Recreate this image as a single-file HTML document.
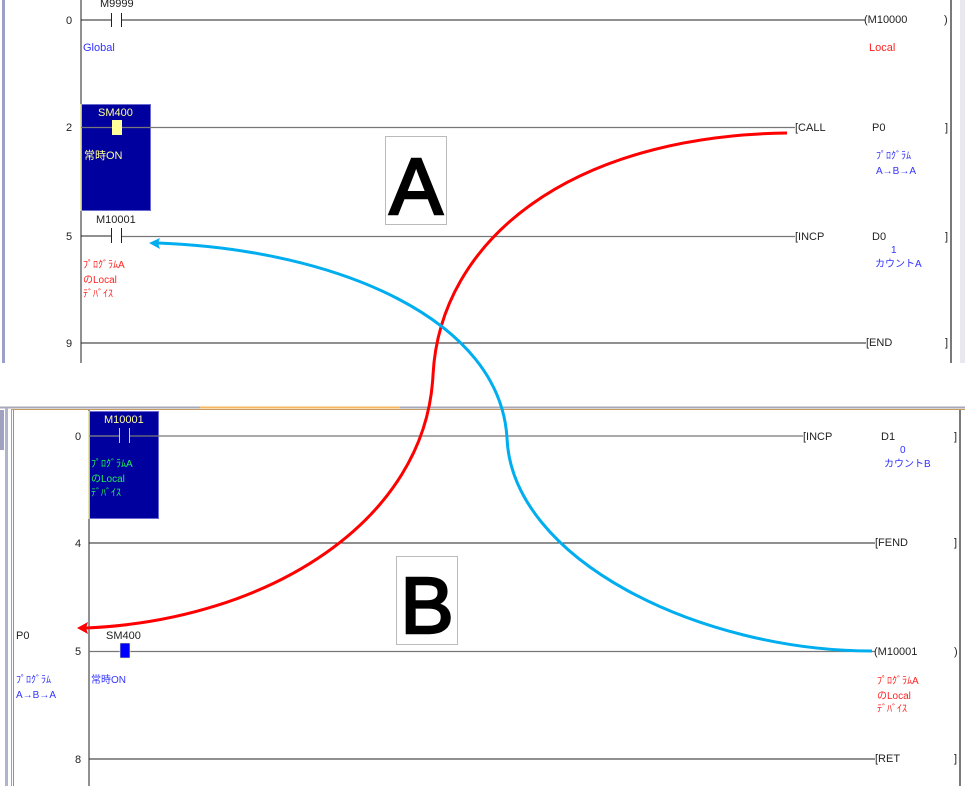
<!DOCTYPE html>
<html><head><meta charset="utf-8"><style>
html,body{margin:0;padding:0;background:#fff;}
svg{display:block;font-family:"Liberation Sans","Noto Sans CJK JP",sans-serif;font-size:11px;}
</style></head><body>
<svg width="965" height="786" viewBox="0 0 965 786" xmlns="http://www.w3.org/2000/svg">
<!-- top panel -->
<rect x="2" y="0" width="3" height="363" fill="#9aa0c8"/>
<line x1="81" y1="0" x2="81" y2="363" stroke="#555" stroke-width="1.3"/>
<line x1="951" y1="0" x2="951" y2="363" stroke="#333" stroke-width="1.3"/>
<rect x="960" y="0" width="5" height="363" fill="#e8e8ee"/>
<!-- row 0 -->
<text x="66" y="24" fill="#222">0</text>
<text x="100" y="7" fill="#222">M9999</text>
<line x1="81" y1="20" x2="111" y2="20" stroke="#222"/>
<line x1="122" y1="20" x2="865" y2="20" stroke="#222"/>
<line x1="111.5" y1="13" x2="111.5" y2="27" stroke="#222"/>
<line x1="121.5" y1="13" x2="121.5" y2="27" stroke="#222"/>
<text x="864" y="23" fill="#222">(M10000</text>
<text x="944" y="23" fill="#222">)</text>
<text x="83" y="51" fill="#3333ff">Global</text>
<text x="869" y="51" fill="#ff2222">Local</text>
<!-- row 2 -->
<rect x="81.5" y="104.5" width="69" height="106" fill="#00009f" stroke="#6a6ad0"/>
<line x1="81" y1="104" x2="81" y2="211" stroke="#ffff88"/>
<text x="98" y="116" fill="#ffff99">SM400</text>
<line x1="81" y1="127.5" x2="795" y2="127.5" stroke="#777" stroke-width="1.3"/>
<rect x="112" y="120" width="10" height="15" fill="#ffff99"/>
<text x="84" y="159" fill="#ffff99">常時ON</text>
<text x="66" y="131" fill="#222">2</text>
<text x="795" y="131" fill="#222">[CALL</text>
<text x="872" y="131" fill="#222">P0</text>
<text x="945" y="131" fill="#222">]</text>
<text x="876" y="159" fill="#3333ff" font-size="10">ﾌﾟﾛｸﾞﾗﾑ</text>
<text x="876" y="174" fill="#3333ff" font-size="10">A→B→A</text>
<rect x="385.5" y="136.5" width="61" height="88" fill="#fff" stroke="#bbb"/>
<text x="416" y="214" fill="#000" stroke="#000" stroke-width="2.5" font-size="80" text-anchor="middle">A</text>
<!-- row 5 -->
<text x="66" y="240" fill="#222">5</text>
<text x="96" y="223" fill="#222">M10001</text>
<line x1="81" y1="236" x2="111" y2="236" stroke="#222"/>
<line x1="122" y1="236.5" x2="795" y2="236.5" stroke="#777" stroke-width="1.3"/>
<line x1="111.5" y1="228" x2="111.5" y2="243" stroke="#222"/>
<line x1="121.5" y1="228" x2="121.5" y2="243" stroke="#222"/>
<text x="795" y="240" fill="#222">[INCP</text>
<text x="872" y="240" fill="#222">D0</text>
<text x="945" y="240" fill="#222">]</text>
<text x="891" y="253" fill="#3333ff" font-size="10">1</text>
<text x="875" y="267" fill="#3333ff" font-size="10">カウントA</text>
<text x="83" y="268" fill="#ff2222" font-size="10">ﾌﾟﾛｸﾞﾗﾑA</text>
<text x="83" y="283" fill="#ff2222" font-size="10">のLocal</text>
<text x="83" y="297" fill="#ff2222" font-size="10">ﾃﾞﾊﾞｲｽ</text>
<!-- row 9 -->
<text x="66" y="347" fill="#222">9</text>
<line x1="81" y1="343" x2="866" y2="343" stroke="#222"/>
<text x="866" y="346" fill="#222">[END</text>
<text x="945" y="346" fill="#222">]</text>

<!-- bottom panel -->
<line x1="0" y1="407.5" x2="965" y2="407.5" stroke="#a8a8b8" stroke-width="2"/>
<line x1="200" y1="407.5" x2="400" y2="407.5" stroke="#f5b860" stroke-width="2"/>
<rect x="0" y="410" width="4" height="40" fill="#a0a0c0"/>
<rect x="5" y="408" width="3" height="378" fill="#b0b4cc"/>
<line x1="11.5" y1="409" x2="11.5" y2="786" stroke="#c89a60"/>
<line x1="13.5" y1="409" x2="13.5" y2="786" stroke="#8090c0"/>
<line x1="11" y1="409.5" x2="965" y2="409.5" stroke="#c89a60"/>
<line x1="89" y1="410" x2="89" y2="786" stroke="#555" stroke-width="1.3"/>
<line x1="960" y1="410" x2="960" y2="786" stroke="#333" stroke-width="1.3"/>
<!-- row 0 -->
<rect x="89.5" y="411.5" width="69" height="107" fill="#00009f" stroke="#6a6ad0"/>
<line x1="89" y1="411" x2="89" y2="519" stroke="#ffff88"/>
<text x="104" y="423" fill="#ffff99">M10001</text>
<line x1="89" y1="436" x2="119" y2="436" stroke="#888" stroke-width="1.3"/>
<line x1="130" y1="436" x2="803" y2="436" stroke="#777" stroke-width="1.3"/>
<line x1="119.5" y1="428" x2="119.5" y2="443" stroke="#ccc"/>
<line x1="129.5" y1="428" x2="129.5" y2="443" stroke="#ccc"/>
<text x="91" y="467" fill="#22ee55" font-size="10">ﾌﾟﾛｸﾞﾗﾑA</text>
<text x="91" y="482" fill="#22ee55" font-size="10">のLocal</text>
<text x="91" y="496" fill="#22ee55" font-size="10">ﾃﾞﾊﾞｲｽ</text>
<text x="75" y="440" fill="#222">0</text>
<text x="803" y="440" fill="#222">[INCP</text>
<text x="881" y="440" fill="#222">D1</text>
<text x="954" y="440" fill="#222">]</text>
<text x="900" y="453" fill="#3333ff" font-size="10">0</text>
<text x="884" y="467" fill="#3333ff" font-size="10">カウントB</text>
<!-- row 4 -->
<text x="75" y="547" fill="#222">4</text>
<line x1="89" y1="543" x2="875" y2="543" stroke="#222"/>
<text x="875" y="546" fill="#222">[FEND</text>
<text x="954" y="546" fill="#222">]</text>
<rect x="396.5" y="556.5" width="61" height="88" fill="#fff" stroke="#bbb"/>
<text x="427" y="633" fill="#000" stroke="#000" stroke-width="2.5" font-size="80" text-anchor="middle">B</text>
<!-- row 5 -->
<text x="16" y="639" fill="#222">P0</text>
<text x="75" y="655" fill="#222">5</text>
<text x="106" y="639" fill="#222">SM400</text>
<line x1="89" y1="651.5" x2="875" y2="651.5" stroke="#777" stroke-width="1.3"/>
<rect x="120" y="643" width="10" height="15" fill="#0000ff" stroke="#ffff88" stroke-width="0.6"/>
<text x="874" y="655" fill="#222">(M10001</text>
<text x="954" y="655" fill="#222">)</text>
<text x="16" y="683" fill="#3333ff" font-size="10">ﾌﾟﾛｸﾞﾗﾑ</text>
<text x="16" y="698" fill="#3333ff" font-size="10">A→B→A</text>
<text x="91" y="683" fill="#3333ff" font-size="10">常時ON</text>
<text x="877" y="684" fill="#ff2222" font-size="10">ﾌﾟﾛｸﾞﾗﾑA</text>
<text x="877" y="699" fill="#ff2222" font-size="10">のLocal</text>
<text x="877" y="712" fill="#ff2222" font-size="10">ﾃﾞﾊﾞｲｽ</text>
<!-- row 8 -->
<text x="75" y="763" fill="#222">8</text>
<line x1="89" y1="759" x2="875" y2="759" stroke="#222"/>
<text x="875" y="762" fill="#222">[RET</text>
<text x="954" y="762" fill="#222">]</text>

<!-- curves -->
<path d="M787,133 C570,136 440,240 433,375 C426,520 270,620 86,628" fill="none" stroke="#ff0000" stroke-width="3"/>
<polygon points="77,628 88,622 86,628 88,634" fill="#ff0000"/>
<path d="M158,243 C340,250 500,320 507,438 C512,560 700,651 872,651" fill="none" stroke="#00aeef" stroke-width="3"/>
<polygon points="149,243 160,238 158,243 160,249" fill="#00aeef"/>
</svg>
</body></html>
